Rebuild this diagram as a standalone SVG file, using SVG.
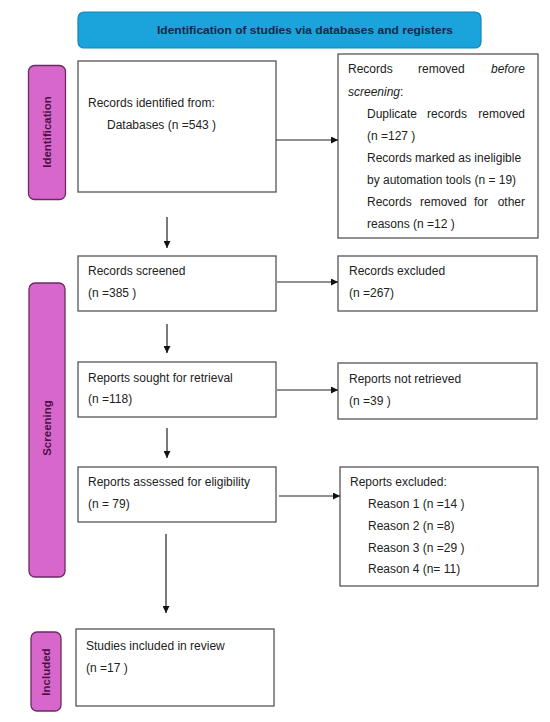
<svg xmlns="http://www.w3.org/2000/svg" width="550" height="722" viewBox="0 0 550 722">
<style>
.box{fill:#fff;stroke:#555;stroke-width:1.3}
.pill{fill:#d867cc;stroke:#6a2b63;stroke-width:1.3}
.pt{font-family:"Liberation Sans",Arial,sans-serif;font-size:11.5px;font-weight:bold;fill:#4a1244}
.t{font-family:"Liberation Sans",Arial,sans-serif;font-size:12px;fill:#222}
.conn{stroke:#222;stroke-width:1.2;fill:none}
</style>
<defs>
<marker id="ah" viewBox="0 0 10 10" refX="10" refY="5" markerWidth="7" markerHeight="7" markerUnits="userSpaceOnUse" orient="auto">
<path d="M0,0 L10,5 L0,10 z" fill="#111"/>
</marker>
</defs>
<rect width="550" height="722" fill="#fff"/>

<g id="banner">
<rect x="78" y="12" width="403" height="36" rx="6" fill="#1ba3dc" stroke="#1585b8" stroke-width="1.2"/>
<text x="157" y="34" font-family="'Liberation Sans',Arial,sans-serif" font-size="11.5" font-weight="bold" fill="#0e2a48" textLength="296" lengthAdjust="spacingAndGlyphs">Identification of studies via databases and registers</text>
</g>

<g id="label-identification">
<rect class="pill" x="28.5" y="65.5" width="37" height="134" rx="6"/>
<text class="pt" transform="translate(51,132) rotate(-90)" text-anchor="middle">Identification</text>
</g>
<g id="label-screening">
<rect class="pill" x="29" y="283" width="36" height="294" rx="6"/>
<text class="pt" transform="translate(51,428) rotate(-90)" text-anchor="middle">Screening</text>
</g>
<g id="label-included">
<rect class="pill" x="31" y="632" width="30" height="79" rx="6"/>
<text class="pt" transform="translate(50,672) rotate(-90)" text-anchor="middle">Included</text>
</g>

<g id="identified">
<rect class="box" x="78" y="61" width="198" height="131"/>
<text class="t" x="88" y="107">Records identified from:</text>
<text class="t" x="107" y="129">Databases (n =543 )</text>
</g>

<g id="removed">
<rect class="box" x="338" y="54" width="200" height="184"/>
<text class="t" y="73"><tspan x="348">Records</tspan><tspan x="418">removed</tspan><tspan x="525" text-anchor="end" font-style="italic">before</tspan></text>
<text class="t" x="348" y="96"><tspan font-style="italic">screening</tspan>:</text>
<text class="t" y="118"><tspan x="367">Duplicate</tspan><tspan x="427">records</tspan><tspan x="525" text-anchor="end">removed</tspan></text>
<text class="t" x="367" y="140">(n =127 )</text>
<text class="t" x="367" y="162">Records marked as ineligible</text>
<text class="t" x="367" y="184">by automation tools (n = 19)</text>
<text class="t" y="206"><tspan x="367">Records</tspan><tspan x="420">removed</tspan><tspan x="474">for</tspan><tspan x="525" text-anchor="end">other</tspan></text>
<text class="t" x="367" y="228">reasons (n =12 )</text>
</g>

<g id="screened">
<rect class="box" x="78" y="256" width="198" height="55"/>
<text class="t" x="88" y="275">Records screened</text>
<text class="t" x="88" y="297">(n =385 )</text>
</g>
<g id="excluded">
<rect class="box" x="338" y="256" width="199" height="55"/>
<text class="t" x="349" y="275">Records excluded</text>
<text class="t" x="349" y="297">(n =267)</text>
</g>

<g id="sought">
<rect class="box" x="78" y="362" width="198" height="55"/>
<text class="t" x="88" y="382">Reports sought for retrieval</text>
<text class="t" x="88" y="403">(n =118)</text>
</g>
<g id="notretrieved">
<rect class="box" x="338" y="363" width="199" height="56"/>
<text class="t" x="349" y="383">Reports not retrieved</text>
<text class="t" x="349" y="405">(n =39 )</text>
</g>

<g id="assessed">
<rect class="box" x="78" y="467" width="198" height="55"/>
<text class="t" x="88" y="486">Reports assessed for eligibility</text>
<text class="t" x="88" y="508">(n = 79)</text>
</g>
<g id="reportsexcluded">
<rect class="box" x="340" y="467" width="198" height="119"/>
<text class="t" x="350" y="486">Reports excluded:</text>
<text class="t" x="368" y="508">Reason 1 (n =14 )</text>
<text class="t" x="368" y="530">Reason 2 (n =8)</text>
<text class="t" x="368" y="552">Reason 3 (n =29 )</text>
<text class="t" x="368" y="573">Reason 4 (n= 11)</text>
</g>

<g id="included">
<rect class="box" x="76" y="629" width="198" height="77"/>
<text class="t" x="86" y="650">Studies included in review</text>
<text class="t" x="86" y="672">(n =17 )</text>
</g>

<g id="connectors">
<line class="conn" x1="276" y1="140" x2="338" y2="140" marker-end="url(#ah)"/>
<line class="conn" x1="167" y1="217" x2="167" y2="248" marker-end="url(#ah)"/>
<line class="conn" x1="277" y1="282" x2="338" y2="282" marker-end="url(#ah)"/>
<line class="conn" x1="167" y1="324" x2="167" y2="353" marker-end="url(#ah)"/>
<line class="conn" x1="277" y1="390" x2="338" y2="390" marker-end="url(#ah)"/>
<line class="conn" x1="167" y1="428" x2="167" y2="458" marker-end="url(#ah)"/>
<line class="conn" x1="279" y1="496" x2="340" y2="496" marker-end="url(#ah)"/>
<line class="conn" x1="166" y1="534" x2="166" y2="613" marker-end="url(#ah)"/>
</g>
</svg>
